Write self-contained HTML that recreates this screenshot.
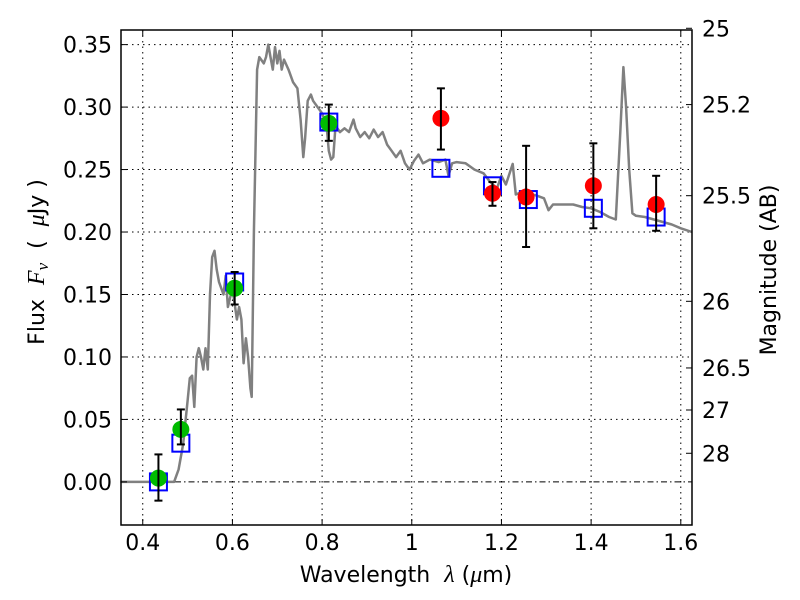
<!DOCTYPE html>
<html><head><meta charset="utf-8"><style>
body{margin:0;background:#fff}
svg{display:block;font-family:"DejaVu Sans","Liberation Sans",sans-serif}
</style></head><body>
<svg id="chart" width="800" height="600">
<rect width="800" height="600" fill="#fff"/>
<g id="grid"></g>
<g id="spec"></g>
<g id="marks"></g>
<rect x="121" y="30" width="571" height="495" fill="none" stroke="#000" stroke-width="1.5"/>
<g id="axes" font-size="22"></g>
<text x="406" y="582" font-size="22" text-anchor="middle" xml:space="preserve">Wavelength  <tspan font-family="Liberation Serif" font-style="italic" font-size="24">λ</tspan> (<tspan font-family="Liberation Serif" font-style="italic" font-size="24">μ</tspan>m)</text>
<text transform="translate(44,262) rotate(-90)" font-size="22" text-anchor="middle" xml:space="preserve">Flux  <tspan font-family="Liberation Serif" font-style="italic" font-size="24">F</tspan><tspan font-family="Liberation Serif" font-style="italic" font-size="17" dy="4">ν</tspan><tspan dy="-4">  (  </tspan><tspan font-family="Liberation Serif" font-style="italic" font-size="24">μ</tspan>Jy )</text>
<text transform="translate(776,270) rotate(-90)" font-size="22" text-anchor="middle">Magnitude (AB)</text>
</svg>
<script>
const xTicks=[0.4,0.6,0.8,1.0,1.2,1.4,1.6];
const xTickLabels=["0.4","0.6","0.8","1","1.2","1.4","1.6"];
const yTicks=[0,0.05,0.1,0.15,0.2,0.25,0.3,0.35];
const yTickLabels=["0.00","0.05","0.10","0.15","0.20","0.25","0.30","0.35"];
const magTicks=[25,25.2,25.5,26,26.5,27,28];
const magTickLabels=["25","25.2","25.5","26","26.5","27","28"];
const specWave=[0.35,0.47,0.48,0.49,0.5,0.505,0.51,0.515,0.52,0.525,0.53,0.535,0.54,0.545,0.55,0.555,0.56,0.565,0.57,0.58,0.585,0.59,0.6,0.61,0.615,0.62,0.625,0.63,0.635,0.64,0.643,0.648,0.655,0.66,0.67,0.675,0.68,0.685,0.69,0.695,0.7,0.705,0.71,0.715,0.725,0.735,0.745,0.752,0.758,0.762,0.768,0.775,0.78,0.79,0.8,0.81,0.815,0.82,0.825,0.83,0.84,0.85,0.86,0.87,0.875,0.885,0.895,0.905,0.915,0.925,0.935,0.945,0.955,0.965,0.975,0.985,0.995,1.005,1.015,1.025,1.04,1.06,1.075,1.082,1.09,1.1,1.12,1.14,1.16,1.175,1.19,1.2,1.21,1.225,1.232,1.245,1.26,1.28,1.295,1.305,1.315,1.335,1.36,1.38,1.4,1.42,1.44,1.455,1.465,1.472,1.478,1.485,1.492,1.5,1.52,1.54,1.56,1.58,1.6,1.625];
const specFlux=[0,0,0.01,0.03,0.065,0.083,0.085,0.06,0.1,0.107,0.1,0.09,0.107,0.09,0.15,0.18,0.185,0.17,0.16,0.15,0.165,0.14,0.155,0.13,0.14,0.13,0.095,0.115,0.1,0.075,0.068,0.2,0.33,0.34,0.335,0.34,0.35,0.34,0.33,0.348,0.335,0.345,0.33,0.338,0.33,0.32,0.315,0.29,0.26,0.275,0.305,0.31,0.305,0.3,0.295,0.285,0.265,0.258,0.26,0.285,0.28,0.283,0.28,0.29,0.283,0.276,0.28,0.275,0.282,0.276,0.28,0.27,0.265,0.26,0.265,0.255,0.25,0.257,0.262,0.255,0.258,0.256,0.258,0.245,0.255,0.256,0.255,0.25,0.247,0.24,0.235,0.245,0.238,0.2545,0.23,0.232,0.231,0.229,0.227,0.2175,0.222,0.222,0.222,0.22,0.219,0.216,0.212,0.21,0.28,0.332,0.3,0.25,0.215,0.213,0.212,0.21,0.208,0.206,0.203,0.2];
const greenWave=[0.435,0.485,0.605,0.815];
const greenFlux=[0.003,0.042,0.155,0.287];
const greenLo=[-0.015,0.03,0.142,0.273];
const greenHi=[0.022,0.058,0.168,0.302];
const redWave=[1.065,1.18,1.255,1.405,1.545];
const redFlux=[0.291,0.231,0.228,0.237,0.222];
const redLo=[0.266,0.221,0.188,0.203,0.201];
const redHi=[0.315,0.240,0.269,0.271,0.245];
const modelWave=[0.435,0.485,0.605,0.815,1.065,1.18,1.26,1.405,1.545];
const modelFlux=[0,0.031,0.16,0.288,0.251,0.237,0.226,0.219,0.212];

const X0=121,X1=692,Y0=525,Y1=30,xmin=0.3515,xmax=1.625,ymin=-0.0345,ymax=0.3617;
const sx=v=>X0+(v-xmin)/(xmax-xmin)*(X1-X0);
const sy=v=>Y0-(v-ymin)/(ymax-ymin)*(Y0-Y1);
const NS="http://www.w3.org/2000/svg";
function mk(tag,attrs,parent){const e=document.createElementNS(NS,tag);for(const k in attrs)e.setAttribute(k,attrs[k]);parent.appendChild(e);return e;}
const grid=document.getElementById('grid'),axes=document.getElementById('axes'),spec=document.getElementById('spec'),marks=document.getElementById('marks');
xTicks.forEach((t,i)=>{
  const l=mk('line',{x1:sx(t),x2:sx(t),y1:Y1,y2:Y0,stroke:'#000','stroke-width':1,'stroke-dasharray':'1.5,4'},grid);
  
  
  mk('line',{x1:sx(t),x2:sx(t),y1:Y0,y2:Y0-6,stroke:'#000'},axes);
  mk('line',{x1:sx(t),x2:sx(t),y1:Y1,y2:Y1+6,stroke:'#000'},axes);
  const tx=mk('text',{x:sx(t),y:Y0+25,'text-anchor':'middle'},axes);
  tx.textContent=xTickLabels[i];
  
  
});
yTicks.forEach((t,i)=>{
  const l=mk('line',{x1:X0,x2:X1,y1:sy(t),y2:sy(t),stroke:'#000','stroke-width':1,'stroke-dasharray':t===0?'6,3,1.5,3':'1.5,4'},grid);
  
  
  mk('line',{x1:X0,x2:X0+6,y1:sy(t),y2:sy(t),stroke:'#000'},axes);
  const tx=mk('text',{x:X0-9,y:sy(t)+8,'text-anchor':'end'},axes);
  tx.textContent=yTickLabels[i];
  
  
});
magTicks.forEach((m,i)=>{
  const f=Math.pow(10,(23.9-m)/2.5);
  const y=sy(f);
  mk('line',{x1:X1,x2:X1-6,y1:y,y2:y,stroke:'#000'},axes);
  const tx=mk('text',{x:X1+10,y:y+8,'text-anchor':'start'},axes);
  tx.textContent=magTickLabels[i];
  
  
});
let d='';specWave.forEach((w,i)=>{d+=(i?'L':'M')+sx(w).toFixed(1)+','+sy(specFlux[i]).toFixed(1);});
const p=mk('path',{d:d,fill:'none',stroke:'#808080','stroke-width':2.5,'stroke-linejoin':'round'},spec);


modelWave.forEach((w,i)=>{
  const r=mk('rect',{x:sx(w)-8.5,y:sy(modelFlux[i])-8.5,width:17,height:17,fill:'none',stroke:'#0000ff','stroke-width':2},marks);
  
  
});
function pts(W,F,L,H,col,name){
  W.forEach((w,i)=>{
    const x=sx(w);
    const g=mk('g',{},marks);
    
    
    mk('circle',{cx:x,cy:sy(F[i]),r:8.5,fill:col},g);
    mk('line',{x1:x,x2:x,y1:sy(L[i]),y2:sy(H[i]),stroke:'#000','stroke-width':2},g);
    mk('line',{x1:x-4,x2:x+4,y1:sy(L[i]),y2:sy(L[i]),stroke:'#000','stroke-width':2},g);
    mk('line',{x1:x-4,x2:x+4,y1:sy(H[i]),y2:sy(H[i]),stroke:'#000','stroke-width':2},g);
  });
}
pts(greenWave,greenFlux,greenLo,greenHi,'#00bb00','optical-point');
pts(redWave,redFlux,redLo,redHi,'#ff0000','nir-point');
</script>
</body></html>
